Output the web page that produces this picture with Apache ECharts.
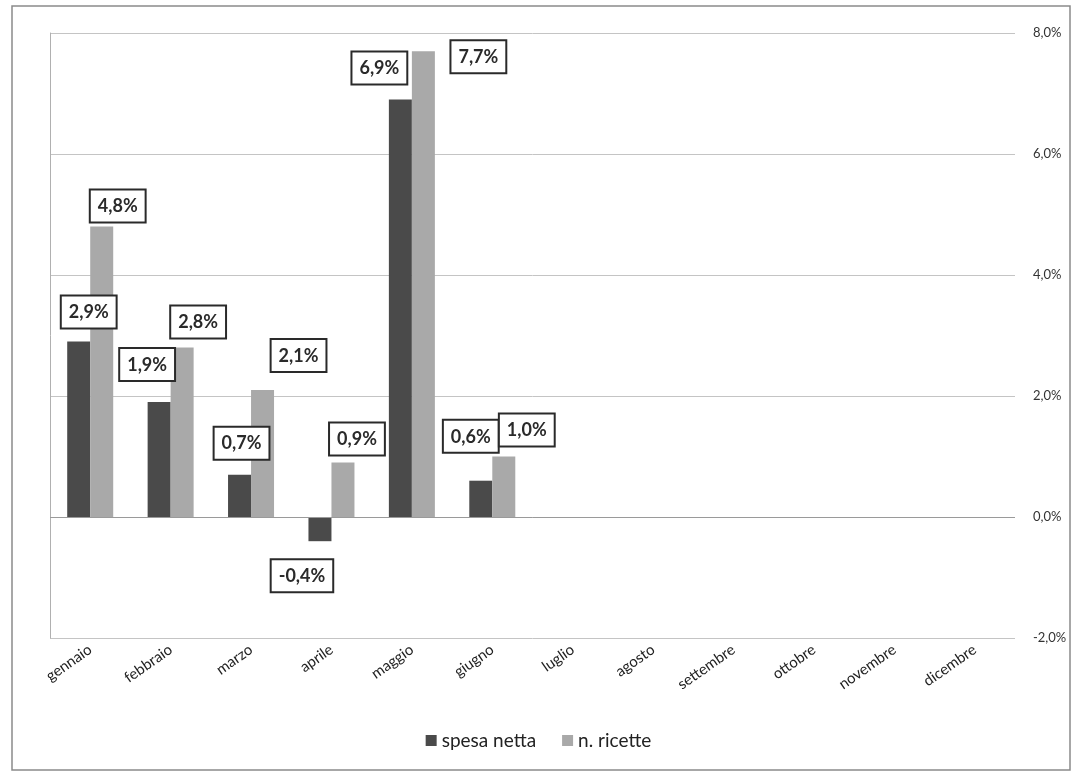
<!DOCTYPE html>
<html>
<head>
<meta charset="utf-8">
<script src="https://cdn.jsdelivr.net/npm/echarts@6/dist/echarts.min.js"></script>
<style>
html,body{margin:0;padding:0;background:#fff;}
#chart{width:1077px;height:773px;}
</style>
</head>
<body>
<div id="chart"></div>
<script>
// ---- data ----
const categories = ['gennaio','febbraio','marzo','aprile','maggio','giugno','luglio','agosto','settembre','ottobre','novembre','dicembre'];
const spesaNetta = [2.9, 1.9, 0.7, -0.4, 6.9, 0.6, null, null, null, null, null, null];
const nRicette   = [4.8, 2.8, 2.1, 0.9, 7.7, 1.0, null, null, null, null, null, null];
const seriesNames = ['spesa netta', 'n. ricette'];
const yTicks = { min: -2, max: 8, interval: 2 };

// ---- label placement (style only) ----
const offsetsSpesa   = [[10,-9],[-12,-17],[2,-11],[-18,14],[-21,-11],[-10,-24]];
const offsetsRicette = [[16,0],[16,-5],[36,-14],[14,-3],[55,26],[23,-6]];

const fmt = v => v.toFixed(1).replace('.', ',') + '%';
const FONT = 'Lato, "Open Sans", sans-serif';

const baseLabel = {
  show: true,
  formatter: p => fmt(p.value),
  backgroundColor: '#fff',
  borderColor: '#2a2a2a',
  borderWidth: 2,
  padding: [7, 7, 6, 7],
  fontSize: 18,
  fontWeight: 'bold',
  fontFamily: FONT,
  color: '#2a2a2a',
  distance: 5
};

function buildData(vals, offs) {
  return vals.map((v, i) => {
    if (v === null) return { value: null };
    const o = offs[i] || [0, 0];
    return {
      value: v,
      label: Object.assign({}, baseLabel, {
        position: v >= 0 ? 'top' : 'bottom',
        offset: o
      })
    };
  });
}

const chart = echarts.init(document.getElementById('chart'), null, { renderer: 'canvas' });
chart.setOption({
  backgroundColor: '#fff',
  animation: false,
  textStyle: { fontFamily: FONT },
  graphic: [{
    type: 'rect',
    shape: { x: 12, y: 6, width: 1058, height: 764 },
    style: { fill: 'none', stroke: '#8a8a8a', lineWidth: 1.5 },
    silent: true, z: -1
  }],
  grid: { left: 50, right: 62, top: 33, bottom: 135, containLabel: false },
  legend: {
    bottom: 18,
    left: 'center',
    itemWidth: 11,
    itemHeight: 11,
    itemGap: 26,
    icon: 'rect',
    textStyle: { fontSize: 19, color: '#222', fontFamily: FONT },
    data: seriesNames
  },
  xAxis: {
    type: 'category',
    data: categories,
    axisLine: { show: false },
    axisTick: { show: false },
    axisLabel: { rotate: 35, margin: 10, fontSize: 15, color: '#222', fontFamily: FONT, interval: 0 }
  },
  yAxis: [{
    type: 'value',
    position: 'right',
    min: yTicks.min, max: yTicks.max, interval: yTicks.interval,
    axisLine: { show: false },
    axisTick: { show: false },
    axisLabel: { formatter: v => fmt(v), fontSize: 13, color: '#333', margin: 18, fontFamily: FONT },
    splitLine: { lineStyle: { color: '#c4c4c4', width: 1 } }
  }, {
    type: 'value',
    position: 'left',
    min: yTicks.min, max: yTicks.max, interval: yTicks.interval,
    axisLine: { show: true, lineStyle: { color: '#b0b0b0', width: 1 } },
    axisTick: { show: false },
    axisLabel: { show: false },
    splitLine: { show: false }
  }],
  series: [{
    name: seriesNames[0],
    type: 'bar',
    barWidth: 23,
    barGap: '0%',
    itemStyle: { color: '#4a4a4a' },
    data: buildData(spesaNetta, offsetsSpesa),
    markLine: {
      silent: true,
      symbol: 'none',
      label: { show: false },
      lineStyle: { color: '#9a9a9a', type: 'solid', width: 1 },
      data: [{ yAxis: 0 }]
    },
    z: 3
  }, {
    name: seriesNames[1],
    type: 'bar',
    barWidth: 23,
    barGap: '0%',
    itemStyle: { color: '#a9a9a9' },
    data: buildData(nRicette, offsetsRicette),
    z: 3
  }]
});
</script>
</body>
</html>
